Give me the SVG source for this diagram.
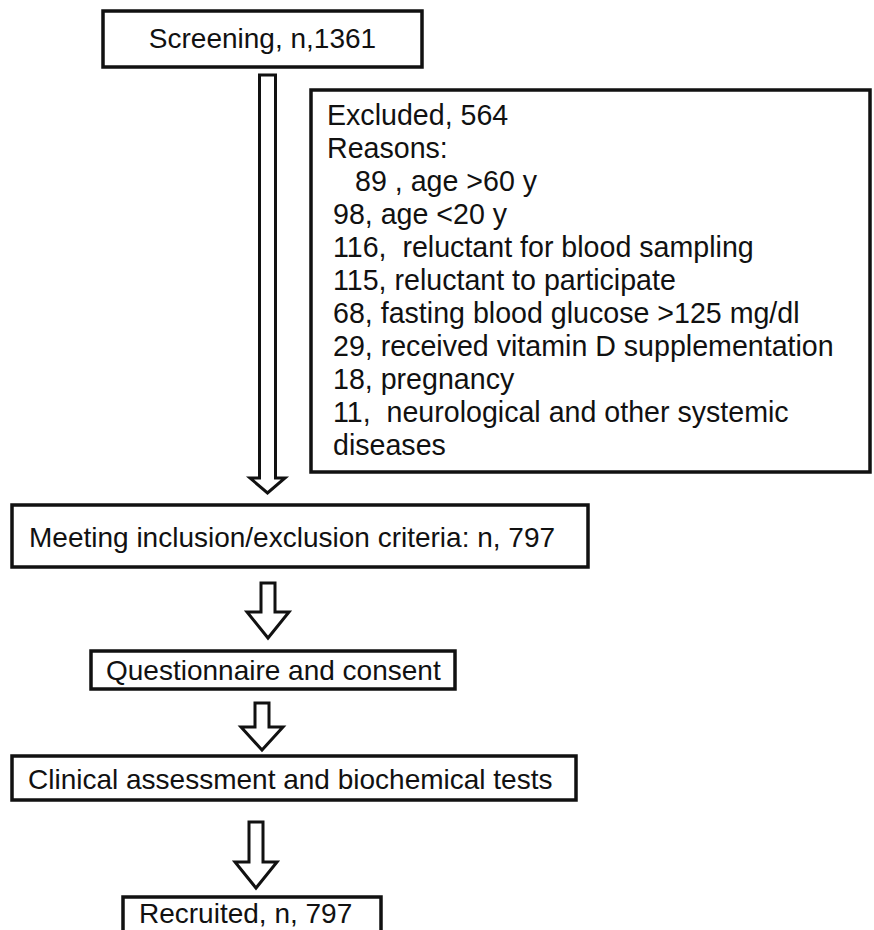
<svg xmlns="http://www.w3.org/2000/svg" width="874" height="930" viewBox="0 0 874 930">
<style>
.box{fill:#fff;stroke:#111;stroke-width:3.5}
.arr{fill:#fff;stroke:#111;stroke-width:3;stroke-linejoin:miter}
text{font-family:"Liberation Sans",Arial,sans-serif;font-size:28px;fill:#111}
.ex{font-size:28.6px}
</style>
<rect width="874" height="930" fill="#fff"/>
<g id="connectors">
<path class="arr" d="M259.5,75 H275.5 V478 H285 L267.5,493 L250,478 H259.5 Z"/>
<path class="arr" d="M261,583 H275 V612 H289 L268,638 L247,612 H261 Z"/>
<path class="arr" d="M255,703 H269 V727 H283 L262,750 L241,727 H255 Z"/>
<path class="arr" d="M249,822 H263 V862 H277 L256,888 L235,862 H249 Z"/>
</g>
<g id="screening">
<rect class="box" x="103" y="11" width="319" height="56"/>
<text x="262.5" y="48" text-anchor="middle">Screening, n,1361</text>
</g>
<g id="excluded">
<rect class="box" x="311" y="90" width="559" height="382"/>
<text class="ex" x="327" y="125">Excluded, 564</text>
<text class="ex" x="327" y="158">Reasons:</text>
<text class="ex" x="355" y="191">89 , age &gt;60 y</text>
<text class="ex" x="333" y="224">98, age &lt;20 y</text>
<text class="ex" x="333" y="257" xml:space="preserve">116,  reluctant for blood sampling</text>
<text class="ex" x="333" y="290">115, reluctant to participate</text>
<text class="ex" x="333" y="323">68, fasting blood glucose &gt;125 mg/dl</text>
<text class="ex" x="333" y="356">29, received vitamin D supplementation</text>
<text class="ex" x="333" y="389">18, pregnancy</text>
<text class="ex" x="333" y="422" xml:space="preserve">11,  neurological and other systemic</text>
<text class="ex" x="333" y="455">diseases</text>
</g>
<g id="meeting">
<rect class="box" x="12" y="505" width="576" height="62"/>
<text x="29" y="547">Meeting inclusion/exclusion criteria: n, 797</text>
</g>
<g id="questionnaire">
<rect class="box" x="91" y="651" width="364" height="38"/>
<text x="106" y="680">Questionnaire and consent</text>
</g>
<g id="clinical">
<rect class="box" x="12" y="756" width="564" height="44"/>
<text x="28" y="789">Clinical assessment and biochemical tests</text>
</g>
<g id="recruited">
<rect class="box" x="123" y="897" width="258" height="40"/>
<text x="139" y="923">Recruited, n, 797</text>
</g>
</svg>
